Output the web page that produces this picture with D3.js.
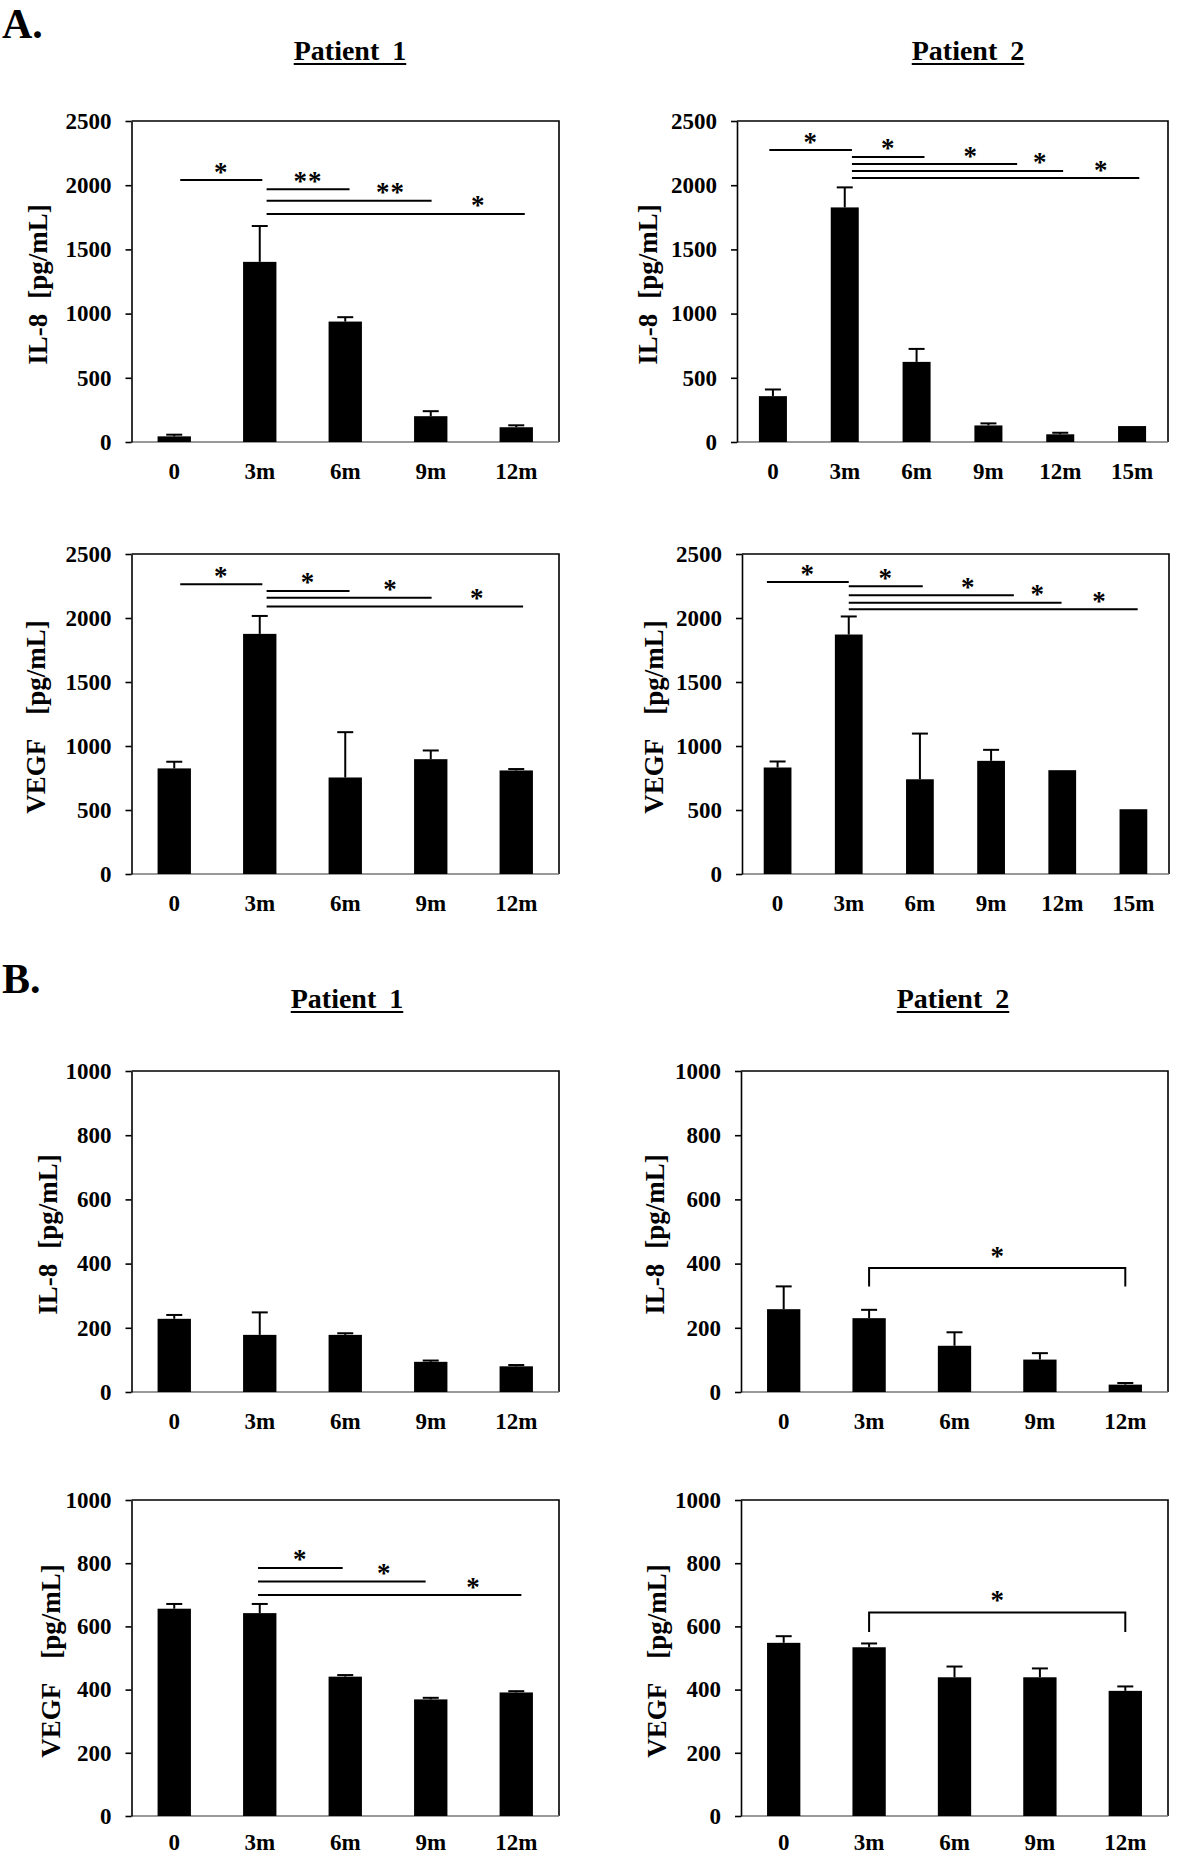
<!DOCTYPE html>
<html><head><meta charset="utf-8">
<script src="https://cdn.jsdelivr.net/npm/d3@7"></script>
<style>
body{margin:0;background:#fff}
svg{display:block}
text{font-family:"Liberation Serif","Times New Roman",serif;font-weight:bold;fill:#000}
</style>
</head><body>
<svg id="c" width="1181" height="1857"></svg>
<script>
// ---------- data ----------
const catsFive = ["0", "3m", "6m", "9m", "12m"];
const catsSix = ["0", "3m", "6m", "9m", "12m", "15m"];
const yTicksA = [0, 500, 1000, 1500, 2000, 2500];
const yTicksB = [0, 200, 400, 600, 800, 1000];

// A. Patient 1 / Patient 2
const il8P1A = [44, 1403, 938, 201, 115];
const il8P1AErr = [13, 279, 34, 39, 15];
const il8P2A = [357, 1827, 624, 129, 60, 124];
const il8P2AErr = [52, 156, 101, 16, 12, 0];
const vegfP1A = [825, 1876, 754, 897, 809];
const vegfP1AErr = [52, 140, 354, 68, 11];
const vegfP2A = [832, 1871, 740, 884, 811, 506];
const vegfP2AErr = [47, 141, 357, 86, 0, 0];

// B. Patient 1 / Patient 2
const il8P1B = [228, 178, 178, 94, 80];
const il8P1BErr = [12, 70, 5, 4, 4];
const il8P2B = [258, 230, 144, 101, 23];
const il8P2BErr = [71, 26, 42, 20, 5];
const vegfP1B = [656, 642, 441, 369, 391];
const vegfP1BErr = [15, 29, 5, 5, 4];
const vegfP2B = [548, 534, 439, 439, 396];
const vegfP2BErr = [21, 12, 34, 28, 14];

// significance lines: [start, end (category-index units), level (data units), label]
const sigA1 = [[0.07, 1.03, 2040, "*"], [1.08, 2.05, 1968, "**"], [1.08, 3.01, 1879, "**"], [1.08, 4.1, 1776, "*"]];
const sigA2 = [[-0.05, 1.1, 2274, "*"], [1.1, 2.11, 2220, "*"], [1.1, 3.4, 2165, "*"], [1.1, 4.04, 2111, "*"], [1.1, 5.1, 2056, "*"]];
const sigA3 = [[0.07, 1.03, 2263, "*"], [1.08, 2.05, 2211, "*"], [1.08, 3.01, 2159, "*"], [1.08, 4.08, 2089, "*"]];
const sigA4 = [[-0.15, 1.0, 2281, "*"], [1.0, 2.04, 2248, "*"], [1.0, 3.32, 2177, "*"], [1.0, 3.99, 2119, "*"], [1.0, 5.06, 2068, "*"]];
const sigB3 = [[0.98, 1.97, 785, "*"], [0.98, 2.94, 742, "*"], [0.98, 4.06, 699, "*"]];
// brackets: [fromIndex, toIndex, level, dropTo, label]
const brkB2 = [[1, 4, 386, 329, "*"]];
const brkB4 = [[1, 4, 644, 582, "*"]];

const sectionLabels = ["A.", "B."];
const patientTitles = ["Patient 1", "Patient 2"];
const il8Title = ["IL-8", "[pg/mL]"];
const vegfTitle = ["VEGF", "[pg/mL]"];

// ---------- layout ----------
const svg = d3.select("#c");
const LX = [131.5, 559];

const panels = [
  {cats: catsFive, vals: il8P1A, errs: il8P1AErr, ticks: yTicksA, sig: sigA1, brk: [], title: il8Title, gap: 15, xr: LX, yr: [121, 442], tOff: 94},
  {cats: catsSix, vals: il8P2A, errs: il8P2AErr, ticks: yTicksA, sig: sigA2, brk: [], title: il8Title, gap: 15, xr: [737, 1168], yr: [121, 442], tOff: 89},
  {cats: catsFive, vals: vegfP1A, errs: vegfP1AErr, ticks: yTicksA, sig: sigA3, brk: [], title: vegfTitle, gap: 24, xr: LX, yr: [554, 874], tOff: 96},
  {cats: catsSix, vals: vegfP2A, errs: vegfP2AErr, ticks: yTicksA, sig: sigA4, brk: [], title: vegfTitle, gap: 24, xr: [742, 1169], yr: [554, 874], tOff: 88},
  {cats: catsFive, vals: il8P1B, errs: il8P1BErr, ticks: yTicksB, sig: [], brk: [], title: il8Title, gap: 15, xr: LX, yr: [1071, 1392], tOff: 84},
  {cats: catsFive, vals: il8P2B, errs: il8P2BErr, ticks: yTicksB, sig: [], brk: brkB2, title: il8Title, gap: 15, xr: [741, 1168], yr: [1071, 1392], tOff: 86},
  {cats: catsFive, vals: vegfP1B, errs: vegfP1BErr, ticks: yTicksB, sig: sigB3, brk: [], title: vegfTitle, gap: 24, xr: LX, yr: [1500, 1816], tOff: 81},
  {cats: catsFive, vals: vegfP2B, errs: vegfP2BErr, ticks: yTicksB, sig: [], brk: brkB4, title: vegfTitle, gap: 24, xr: [741, 1168], yr: [1500, 1816], tOff: 84}
];

// section letters
[[2, 38], [2, 993]].forEach((p, i) => {
  svg.append("text").attr("x", p[0]).attr("y", p[1]).attr("font-size", 42).text(sectionLabels[i]);
});

// patient headings
[[350, 60, 0], [968, 60, 1], [347, 1008, 0], [953, 1008, 1]].forEach(p => {
  const t = svg.append("text").attr("x", p[0]).attr("y", p[1]).attr("text-anchor", "middle")
    .attr("font-size", 28).attr("word-spacing", 6).text(patientTitles[p[2]]);
  const w = t.node().getComputedTextLength();
  svg.append("line").attr("x1", p[0] - w / 2).attr("x2", p[0] + w / 2)
    .attr("y1", p[1] + 4).attr("y2", p[1] + 4).attr("stroke", "#000").attr("stroke-width", 2);
});

panels.forEach(P => {
  const g = svg.append("g");
  const x = d3.scaleBand().domain(P.cats).range(P.xr).paddingInner(0.61).paddingOuter(0.305);
  const y = d3.scaleLinear().domain([0, d3.max(P.ticks)]).range([P.yr[1], P.yr[0]]);
  const cx = i => x(P.cats[i]) + x.bandwidth() / 2;
  const pos = f => P.xr[0] + (f + 0.5) * x.step();   // fractional category position

  // frame top/right
  g.append("path").attr("d", `M${P.xr[0]},${P.yr[0]}H${P.xr[1]}V${P.yr[1]}`)
    .attr("fill", "none").attr("stroke", "#000").attr("stroke-width", 1.6);
  // bottom axis line (gray)
  g.append("line").attr("x1", P.xr[0]).attr("x2", P.xr[1]).attr("y1", P.yr[1]).attr("y2", P.yr[1])
    .attr("stroke", "#777").attr("stroke-width", 1.6);

  // y axis
  const ax = g.append("g").attr("transform", `translate(${P.xr[0]},0)`)
    .call(d3.axisLeft(y).tickValues(P.ticks).tickSize(6).tickSizeOuter(0).tickPadding(14).tickFormat(d3.format("d")));
  ax.select(".domain").attr("stroke", "#000").attr("stroke-width", 1.6);
  ax.selectAll(".tick line").attr("stroke", "#000").attr("stroke-width", 1.6);
  ax.selectAll(".tick text").attr("font-size", 23).attr("font-family", "Liberation Serif").attr("font-weight", "bold").attr("fill", "#000");

  // x labels
  const ly = Math.min(P.yr[1] + 37, 1850);
  g.selectAll(".xl").data(P.cats).enter().append("text")
    .attr("x", d => x(d) + x.bandwidth() / 2).attr("y", ly)
    .attr("text-anchor", "middle").attr("font-size", 23).text(d => d);

  // bars
  g.selectAll(".bar").data(P.vals).enter().append("rect")
    .attr("x", (d, i) => x(P.cats[i])).attr("width", x.bandwidth())
    .attr("y", d => y(d)).attr("height", d => y(0) - y(d)).attr("fill", "#000");

  // error bars
  P.vals.forEach((v, i) => {
    const e = P.errs[i];
    if (!e) return;
    const c = cx(i);
    g.append("line").attr("x1", c).attr("x2", c).attr("y1", y(v)).attr("y2", y(v + e))
      .attr("stroke", "#000").attr("stroke-width", 2);
    g.append("line").attr("x1", c - 8).attr("x2", c + 8).attr("y1", y(v + e)).attr("y2", y(v + e))
      .attr("stroke", "#000").attr("stroke-width", 2);
  });

  // significance lines
  P.sig.forEach((s, k) => {
    const [a, b, lv, lab] = s;
    const x1 = pos(a), x2 = pos(b);
    g.append("line").attr("x1", x1).attr("x2", x2).attr("y1", y(lv)).attr("y2", y(lv))
      .attr("stroke", "#000").attr("stroke-width", 2);
    const prev = P.sig[k - 1];
    const from = (prev && prev[0] === a) ? pos(prev[1]) : x1;
    g.append("text").attr("x", (from + x2) / 2).attr("y", y(lv) + 0.5)
      .attr("text-anchor", "middle").attr("font-size", 27).attr("font-weight", "normal")
      .attr("letter-spacing", 1).text(lab);
  });

  // brackets
  P.brk.forEach(s => {
    const [a, b, lv, dr, lab] = s;
    g.append("path").attr("d", `M${cx(a)},${y(dr)}V${y(lv)}H${cx(b)}V${y(dr)}`)
      .attr("fill", "none").attr("stroke", "#000").attr("stroke-width", 2);
    g.append("text").attr("x", (cx(a) + cx(b)) / 2).attr("y", y(lv) - 3)
      .attr("text-anchor", "middle").attr("font-size", 27).attr("font-weight", "normal").text(lab);
  });

  // y title
  const tx = P.xr[0] - P.tOff, ty = (P.yr[0] + P.yr[1]) / 2 + 3;
  const tt = g.append("text").attr("transform", `translate(${tx},${ty}) rotate(-90)`)
    .attr("text-anchor", "middle").attr("font-size", 27).attr("dy", "0.35em");
  tt.append("tspan").text(P.title[0]);
  tt.append("tspan").attr("dx", P.gap).text(P.title[1]);
});
</script>
</body></html>
